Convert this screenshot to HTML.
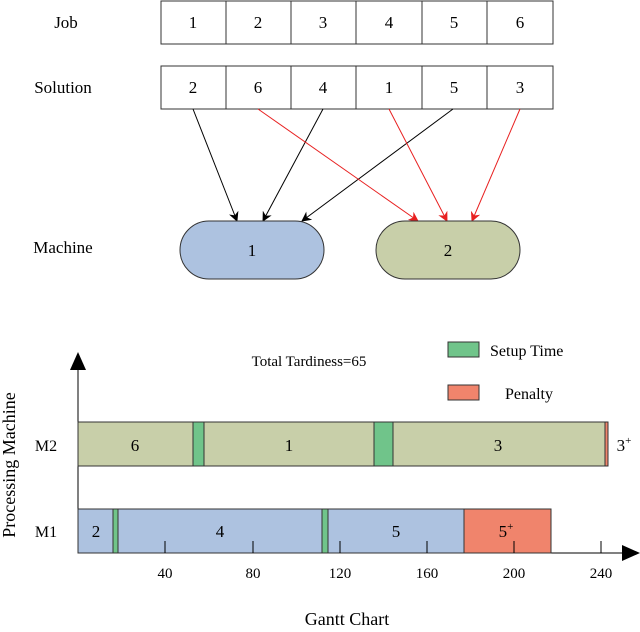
<!DOCTYPE html>
<html><head><style>body{margin:0;background:#fff}</style></head><body>
<svg width="640" height="627" viewBox="0 0 640 627" xmlns="http://www.w3.org/2000/svg" font-family="Liberation Serif, serif" fill="#000">
<defs>
<marker id="ab" markerWidth="10" markerHeight="10" refX="9" refY="5" orient="auto" markerUnits="userSpaceOnUse"><path d="M0,0 L10,5 L0,10 L3,5 z" fill="#000"/></marker>
<marker id="ar" markerWidth="10" markerHeight="10" refX="9" refY="5" orient="auto" markerUnits="userSpaceOnUse"><path d="M0,0 L10,5 L0,10 L3,5 z" fill="#e82020"/></marker>
</defs>
<g font-size="17" text-anchor="middle">
<text x="66" y="28">Job</text>
<text x="63" y="93">Solution</text>
<text x="63" y="253">Machine</text>
</g>
<g fill="#fff" stroke="#333" stroke-width="1">
<rect x="161" y="1" width="392" height="43"/><rect x="161" y="66" width="392" height="43"/>
</g>
<g stroke="#333"><line x1="226" y1="1" x2="226" y2="44"/><line x1="291" y1="1" x2="291" y2="44"/><line x1="356" y1="1" x2="356" y2="44"/><line x1="422" y1="1" x2="422" y2="44"/><line x1="487" y1="1" x2="487" y2="44"/>
<line x1="226" y1="66" x2="226" y2="109"/><line x1="291" y1="66" x2="291" y2="109"/><line x1="356" y1="66" x2="356" y2="109"/><line x1="422" y1="66" x2="422" y2="109"/><line x1="487" y1="66" x2="487" y2="109"/></g>
<g font-size="17" text-anchor="middle">
<text x="193" y="28">1</text><text x="258" y="28">2</text><text x="323" y="28">3</text><text x="389" y="28">4</text><text x="454" y="28">5</text><text x="520" y="28">6</text>
<text x="193" y="93">2</text><text x="258" y="93">6</text><text x="323" y="93">4</text><text x="389" y="93">1</text><text x="454" y="93">5</text><text x="520" y="93">3</text>
</g>
<g stroke-width="1">
<line x1="193" y1="109" x2="237" y2="221" stroke="#000" marker-end="url(#ab)"/>
<line x1="323" y1="109" x2="263" y2="221" stroke="#000" marker-end="url(#ab)"/>
<line x1="453" y1="109" x2="302" y2="221" stroke="#000" marker-end="url(#ab)"/>
<line x1="258" y1="109" x2="418" y2="221" stroke="#e82020" marker-end="url(#ar)"/>
<line x1="389" y1="109" x2="447" y2="221" stroke="#e82020" marker-end="url(#ar)"/>
<line x1="520" y1="109" x2="472" y2="221" stroke="#e82020" marker-end="url(#ar)"/>
</g>
<rect x="180" y="221" width="144" height="58" rx="29" fill="#adc2e0" stroke="#333"/>
<rect x="376" y="221" width="144" height="58" rx="29" fill="#c8cfa9" stroke="#333"/>
<text x="252" y="256" font-size="17" text-anchor="middle">1</text>
<text x="448" y="256" font-size="17" text-anchor="middle">2</text>
<!-- gantt -->
<line x1="78" y1="368" x2="78" y2="553" stroke="#000"/>
<path d="M70,370 L78,352 L86,370 z"/>
<line x1="78" y1="553" x2="625" y2="553" stroke="#000"/>
<path d="M622,545 L640,553 L622,561 z"/>
<g stroke="#333">
<rect x="78" y="422" width="527" height="44" fill="#c8cfa9"/>
<rect x="193" y="422" width="11" height="44" fill="#70c48a"/>
<rect x="374" y="422" width="19" height="44" fill="#70c48a"/>
<rect x="605" y="422" width="3" height="44" fill="#f0846c"/>
<rect x="78" y="509" width="473" height="44" fill="#adc2e0"/>
<rect x="113" y="509" width="5" height="44" fill="#70c48a"/>
<rect x="322" y="509" width="6" height="44" fill="#70c48a"/>
<rect x="464" y="509" width="87" height="44" fill="#f0846c"/>
<rect x="448" y="342" width="31" height="15" fill="#70c48a"/>
<rect x="448" y="385" width="31" height="15" fill="#f0846c"/>
</g>
<g stroke="#000"><line x1="165" y1="541" x2="165" y2="553"/><line x1="253" y1="541" x2="253" y2="553"/><line x1="340" y1="541" x2="340" y2="553"/><line x1="427" y1="541" x2="427" y2="553"/><line x1="514" y1="541" x2="514" y2="553"/><line x1="601" y1="541" x2="601" y2="553"/></g>
<g font-size="15" text-anchor="middle">
<text x="165" y="578">40</text><text x="253" y="578">80</text><text x="340" y="578">120</text><text x="427" y="578">160</text><text x="514" y="578">200</text><text x="601" y="578">240</text>
</g>
<g font-size="17" text-anchor="middle">
<text x="135" y="451">6</text><text x="289" y="451">1</text><text x="498" y="451">3</text>
<text x="96" y="537">2</text><text x="220" y="537">4</text><text x="396" y="537">5</text>
<text x="506" y="537">5<tspan font-size="11" dy="-7">+</tspan></text>
<text x="624" y="451">3<tspan font-size="11" dy="-7">+</tspan></text>
<text x="46" y="451" font-size="16">M2</text><text x="46" y="537" font-size="16">M1</text>
<text x="347" y="625" font-size="18">Gantt Chart</text>
<text x="309" y="366" font-size="15">Total Tardiness=65</text>
</g>
<text x="490" y="356" font-size="16">Setup Time</text>
<text x="505" y="399" font-size="16">Penalty</text>
<text transform="translate(15,465) rotate(-90)" font-size="18" text-anchor="middle">Processing Machine</text>
</svg>
</body></html>
